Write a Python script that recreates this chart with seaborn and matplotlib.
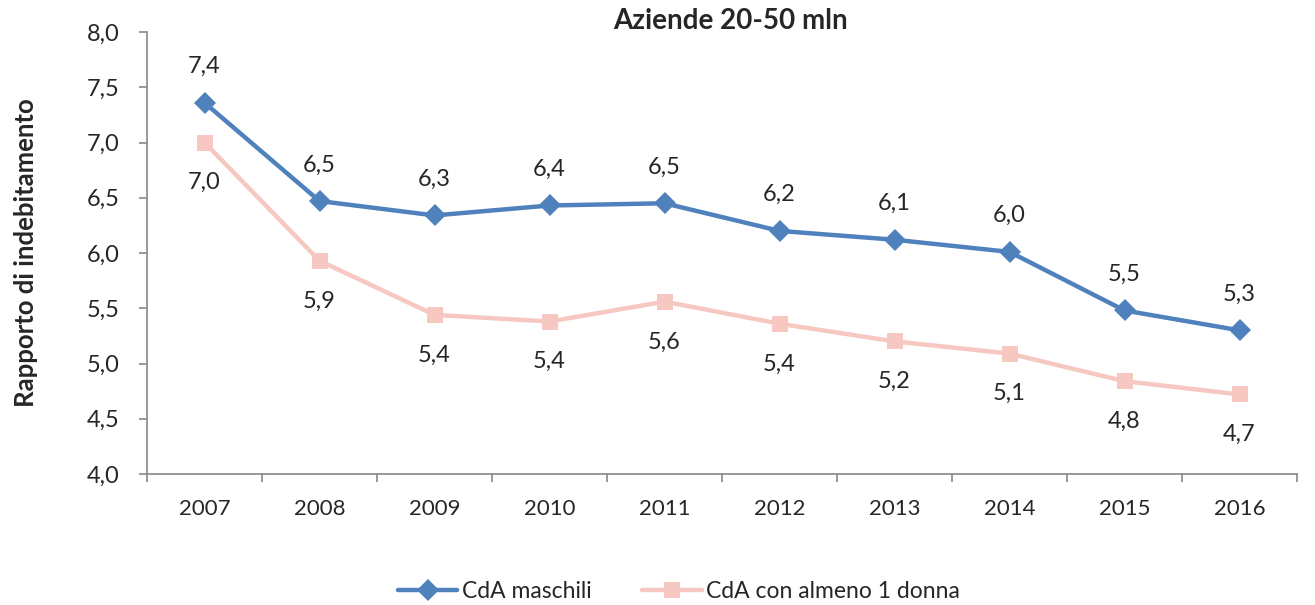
import matplotlib
matplotlib.use("Agg")
import matplotlib.pyplot as plt
import seaborn as sns
import pandas as pd
import numpy as np

years = ["2007", "2008", "2009", "2010", "2011", "2012", "2013", "2014", "2015", "2016"]
maschili = [7.36, 6.47, 6.34, 6.43, 6.45, 6.20, 6.12, 6.01, 5.48, 5.30]
donna = [7.00, 5.93, 5.44, 5.38, 5.56, 5.36, 5.20, 5.09, 4.84, 4.72]
series_names = ["CdA maschili", "CdA con almeno 1 donna"]

blue = "#4F81BD"
pink = "#F6C8C1"

sns.set_theme(style="white")
plt.rcParams['font.family'] = ['Lato', 'DejaVu Sans']

fig = plt.figure(figsize=(13.15, 6.05), dpi=100)
ax = fig.add_axes([147 / 1315, 1 - 474 / 605, 1150 / 1315, 442 / 605])

x = np.arange(len(years))
df = pd.DataFrame({"x": np.concatenate([x, x]),
                   "val": maschili + donna,
                   "serie": [series_names[0]] * len(years) + [series_names[1]] * len(years)})

sns.lineplot(data=df, x="x", y="val", hue="serie", style="serie",
             palette=[blue, pink], markers=["D", "s"], dashes=False,
             linewidth=3.2, markersize=11, markeredgewidth=0, ax=ax)

# data labels
for i, v in enumerate(maschili):
    ax.annotate(f"{v:.1f}".replace(".", ","), (i, v), xytext=(0, 26),
                textcoords="offset points", ha="center", va="center", fontsize=17)
for i, v in enumerate(donna):
    ax.annotate(f"{v:.1f}".replace(".", ","), (i, v), xytext=(0, -29),
                textcoords="offset points", ha="center", va="center", fontsize=17)

ax.set_xlim(-0.5, len(years) - 0.5)
ax.set_ylim(4.0, 8.0)
yt = np.arange(4.0, 8.01, 0.5)
ax.set_yticks(yt)
ax.set_yticklabels([f"{t:.1f}".replace(".", ",") for t in yt], fontsize=17)
ax.set_xticks(x)
ax.set_xticklabels(years, fontsize=16)
ax.set_xticks(np.arange(-0.5, len(years), 1.0), minor=True)
ax.tick_params(axis="x", which="major", length=0, pad=18)
ax.tick_params(axis="x", which="minor", length=6, color="#888888", width=1.2, direction="out", bottom=True)
ax.tick_params(axis="y", length=6, color="#888888", width=1.2, direction="out", left=True, pad=14)

for s in ["top", "right"]:
    ax.spines[s].set_visible(False)
for s in ["left", "bottom"]:
    ax.spines[s].set_color("#888888")
    ax.spines[s].set_linewidth(1.2)

ax.set_xlabel("")
ax.set_ylabel("Rapporto di indebitamento", fontsize=18.5, fontweight="bold")
ax.yaxis.set_label_coords((38 - 147) / 1150, 0.5)
fig.text(730 / 1315, 1 - 21 / 605, "Aziende 20-50 mln", fontsize=20, fontweight="bold",
         ha="center", va="center")

handles, labels = ax.get_legend_handles_labels()
ax.legend(handles, labels, loc="center", bbox_to_anchor=((679 - 147) / 1150, -0.265), ncol=2,
          frameon=False, fontsize=16.5, handlelength=2.6, handletextpad=0.2, columnspacing=2.2)

fig.savefig("out.png", dpi=100)
